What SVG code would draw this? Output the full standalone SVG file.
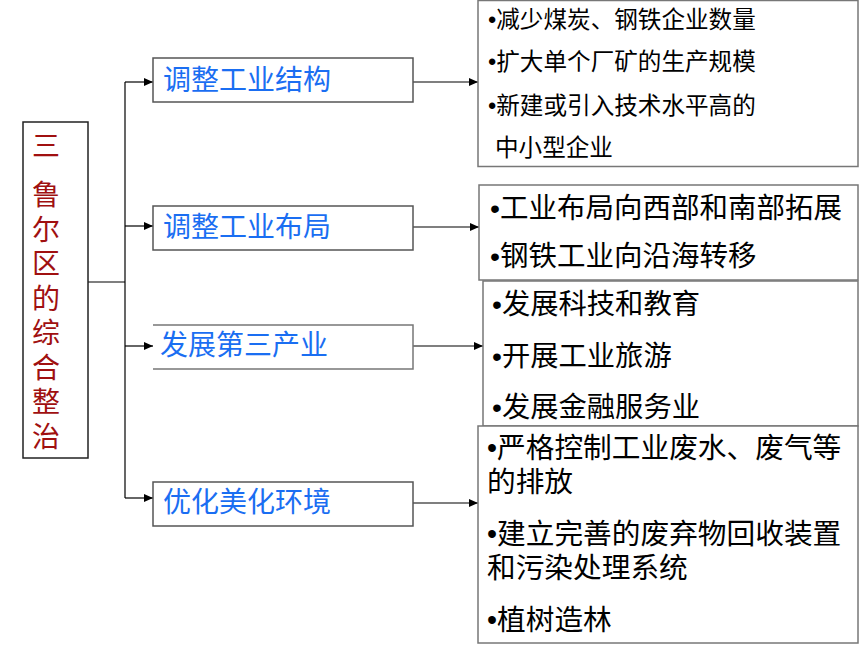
<svg xmlns="http://www.w3.org/2000/svg" width="860" height="645" viewBox="0 0 860 645">
<style>
.nb{fill:#fff;stroke:#555;stroke-width:1.5}
.rb{fill:#fff;stroke:#777;stroke-width:1.5}
.lt{font-family:"Noto Sans CJK SC","Liberation Sans",sans-serif;font-size:28px;fill:#1a6ef2}
.red{font-family:"Noto Sans CJK SC","Liberation Sans",sans-serif;font-size:28px;fill:#a01010;text-anchor:middle}
.rt{font-family:"Noto Sans CJK SC","Liberation Sans",sans-serif;fill:#000}
.bl{font-family:"Liberation Sans",sans-serif}
.cn{fill:none;stroke:#000;stroke-width:1.2}
</style>
<defs>
<marker id="ah" markerWidth="9" markerHeight="8" refX="9" refY="4" orient="auto" markerUnits="userSpaceOnUse">
<path d="M0,0 L9,4 L0,8 Z" fill="#000"/>
</marker>
</defs>
<rect width="860" height="645" fill="#fff"/>
<g id="connectors">
<path class="cn" d="M88,282 H125"/>
<path class="cn" d="M125,82 V498"/>
<path class="cn" d="M125,82 H153" marker-end="url(#ah)"/>
<path class="cn" d="M125,226 H153" marker-end="url(#ah)"/>
<path class="cn" d="M125,346 H153" marker-end="url(#ah)"/>
<path class="cn" d="M125,498 H153" marker-end="url(#ah)"/>
<path class="cn" d="M413,82 H478" marker-end="url(#ah)"/>
<path class="cn" d="M413,227 H479" marker-end="url(#ah)"/>
<path class="cn" d="M413,346 H483" marker-end="url(#ah)"/>
<path class="cn" d="M413,503 H478" marker-end="url(#ah)"/>
</g>
<g id="root">
<rect x="23" y="122" width="65" height="336" fill="#fff" stroke="#222" stroke-width="1.5"/>
<text class="red" x="46" y="156">三</text>
<text class="red" x="46" y="205">鲁</text>
<text class="red" x="46" y="240">尔</text>
<text class="red" x="46" y="274">区</text>
<text class="red" x="46" y="309">的</text>
<text class="red" x="46" y="343">综</text>
<text class="red" x="46" y="378">合</text>
<text class="red" x="46" y="412">整</text>
<text class="red" x="46" y="447">治</text>
</g>
<g id="n1">
<rect class="nb" x="153" y="58" width="260" height="44"/>
<text class="lt" x="163" y="90">调整工业结构</text>
</g>
<g id="n2">
<rect class="nb" x="153" y="206" width="260" height="44"/>
<text class="lt" x="163" y="237">调整工业布局</text>
</g>
<g id="n3">
<rect x="153" y="325" width="260" height="44" fill="#fff" stroke="none"/>
<path d="M153,325 H413 V369 H153" fill="none" stroke="#777" stroke-width="1.5"/>
<text class="lt" x="160" y="355">发展第三产业</text>
</g>
<g id="n4">
<rect class="nb" x="153" y="482" width="260" height="44"/>
<text class="lt" x="163" y="512">优化美化环境</text>
</g>
<g id="r1">
<rect class="rb" x="478" y="0.5" width="380" height="166"/>
<text class="rt" font-size="23.6" x="488" y="28"><tspan class="bl">•</tspan>减少煤炭、钢铁企业数量</text>
<text class="rt" font-size="23.6" x="488" y="70"><tspan class="bl">•</tspan>扩大单个厂矿的生产规模</text>
<text class="rt" font-size="23.6" x="488" y="114"><tspan class="bl">•</tspan>新建或引入技术水平高的</text>
<text class="rt" font-size="23.6" x="495" y="156">中小型企业</text>
</g>
<g id="r2">
<rect class="rb" x="479" y="185" width="379" height="95"/>
<text class="rt" font-size="28.5" x="490" y="218"><tspan class="bl">•</tspan>工业布局向西部和南部拓展</text>
<text class="rt" font-size="28.5" x="490" y="266"><tspan class="bl">•</tspan>钢铁工业向沿海转移</text>
</g>
<g id="r3">
<rect class="rb" x="483" y="281" width="375" height="145"/>
<text class="rt" font-size="28.3" x="492" y="314"><tspan class="bl">•</tspan>发展科技和教育</text>
<text class="rt" font-size="28.3" x="492" y="366"><tspan class="bl">•</tspan>开展工业旅游</text>
<text class="rt" font-size="28.3" x="492" y="417"><tspan class="bl">•</tspan>发展金融服务业</text>
</g>
<g id="r4">
<rect class="rb" x="478" y="426" width="380" height="217"/>
<text class="rt" font-size="28.7" x="487" y="458"><tspan class="bl">•</tspan>严格控制工业废水、废气等</text>
<text class="rt" font-size="28.7" x="487" y="492">的排放</text>
<text class="rt" font-size="28.7" x="487" y="544"><tspan class="bl">•</tspan>建立完善的废弃物回收装置</text>
<text class="rt" font-size="28.7" x="487" y="578">和污染处理系统</text>
<text class="rt" font-size="28.7" x="487" y="630"><tspan class="bl">•</tspan>植树造林</text>
</g>
</svg>
